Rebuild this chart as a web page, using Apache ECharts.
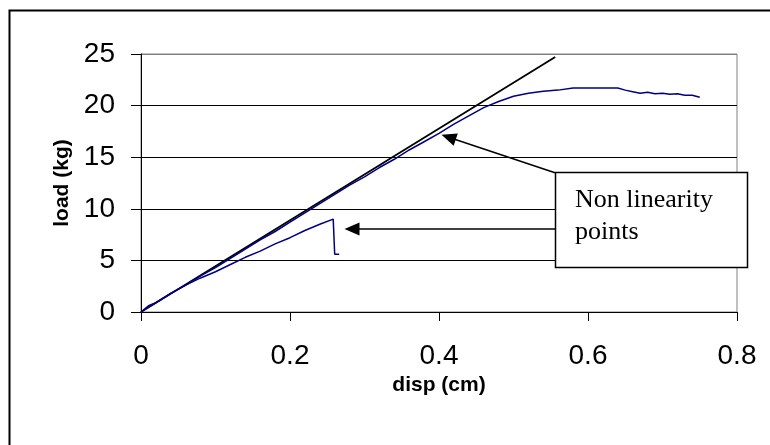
<!DOCTYPE html>
<html>
<head>
<meta charset="utf-8">
<script src="https://cdn.jsdelivr.net/npm/echarts@6/dist/echarts.min.js"></script>
<style>
  html, body { margin: 0; padding: 0; background: #fff; }
  #main { width: 770px; height: 445px; }
</style>
</head>
<body>
<div id="main"></div>
<script>
// load-displacement test
const dispLong = [0, 0.01, 0.02, 0.04, 0.06, 0.08, 0.10, 0.12, 0.14, 0.16, 0.18, 0.20, 0.22, 0.24, 0.26, 0.28, 0.30, 0.32, 0.34, 0.36, 0.38, 0.40, 0.42, 0.44, 0.46, 0.48, 0.50, 0.52, 0.54, 0.56, 0.58, 0.60, 0.62, 0.64, 0.65, 0.66, 0.67, 0.68, 0.69, 0.70, 0.71, 0.72, 0.73, 0.74, 0.75]
const loadLong = [0, 0.5, 0.9, 1.8, 2.6, 3.5, 4.3, 5.2, 6.1, 7.0, 7.8, 8.7, 9.6, 10.5, 11.4, 12.3, 13.1, 14.0, 14.8, 15.7, 16.5, 17.3, 18.2, 19.0, 19.8, 20.4, 20.9, 21.2, 21.4, 21.5, 21.7, 21.7, 21.7, 21.7, 21.5, 21.35, 21.2, 21.3, 21.15, 21.2, 21.1, 21.15, 21.0, 21.0, 20.8]

const dispShort = [0, 0.01, 0.02, 0.04, 0.06, 0.08, 0.10, 0.12, 0.14, 0.16, 0.18, 0.20, 0.22, 0.24, 0.258, 0.260, 0.266]
const loadShort = [0, 0.6, 0.9, 1.8, 2.6, 3.3, 3.9, 4.6, 5.3, 5.9, 6.6, 7.2, 7.9, 8.5, 9.0, 5.6, 5.6]

// straight reference line
const dispRef = [0, 0.556]
const loadRef = [0, 24.7]

const xTicks = [0, 0.2, 0.4, 0.6, 0.8]
const yTicks = [0, 5, 10, 15, 20, 25]

// arrows of the callout: [tail, tip]
const arrowUpper = [[0.5557, 13.5], [0.4129, 16.94]]
const arrowLower = [[0.5557, 8.04], [0.2832, 8.04]]

const pairs = (xs, ys) => xs.map((x, i) => [x, ys[i]])

const chart = echarts.init(document.getElementById('main'), null, { renderer: 'canvas' })

const option = {
  animation: false,
  backgroundColor: '#fff',
  grid: {
    left: 141,
    right: 33,
    top: 54,
    bottom: 133,
    show: true,
    borderColor: '#808080',
    borderWidth: 1
  },
  xAxis: {
    type: 'value',
    min: xTicks[0],
    max: xTicks[xTicks.length - 1],
    interval: 0.2,
    name: 'disp (cm)',
    nameLocation: 'middle',
    nameGap: 60,
    nameTextStyle: {
      fontFamily: 'Liberation Sans',
      fontWeight: 'bold',
      fontSize: 21,
      color: '#000'
    },
    axisLine: { show: true, lineStyle: { color: '#000', width: 1 } },
    axisTick: { show: true, length: 9, lineStyle: { color: '#000' } },
    axisLabel: {
      margin: 30,
      fontFamily: 'Liberation Sans',
      fontSize: 28,
      color: '#000',
      formatter: v => String(+v.toFixed(1))
    },
    splitLine: { show: false }
  },
  yAxis: {
    type: 'value',
    min: yTicks[0],
    max: yTicks[yTicks.length - 1],
    interval: 5,
    name: 'load (kg)',
    nameLocation: 'middle',
    nameGap: 50,
    nameRotate: 90,
    nameTextStyle: {
      fontFamily: 'Liberation Sans',
      fontWeight: 'bold',
      fontSize: 21,
      color: '#000'
    },
    axisLine: { show: true, lineStyle: { color: '#000', width: 1 } },
    axisTick: { show: true, length: 10, lineStyle: { color: '#000' } },
    axisLabel: {
      margin: 26,
      fontFamily: 'Liberation Sans',
      fontSize: 28,
      color: '#000'
    },
    splitLine: {
      show: true,
      lineStyle: { color: ['#000', '#000', '#000', '#000', '#000', '#808080'], width: 1 }
    }
  },
  series: [
    {
      type: 'line',
      data: pairs(dispRef, loadRef),
      showSymbol: false,
      lineStyle: { color: '#000', width: 1.8 },
      z: 2
    },
    {
      type: 'line',
      data: pairs(dispLong, loadLong),
      showSymbol: false,
      step: false,
      lineStyle: { color: '#000080', width: 1.5 },
      z: 3
    },
    {
      type: 'line',
      data: pairs(dispShort, loadShort),
      showSymbol: false,
      lineStyle: { color: '#000080', width: 1.5 },
      z: 3,
      markLine: {
        silent: true,
        symbol: ['none', 'triangle'],
        symbolSize: [13, 15],
        label: { show: false },
        lineStyle: { color: '#000', width: 1.5, type: 'solid' },
        itemStyle: { color: '#000' },
        data: [
          [{ coord: arrowUpper[0] }, { coord: arrowUpper[1] }],
          [{ coord: arrowLower[0] }, { coord: arrowLower[1] }]
        ]
      }
    }
  ],
  graphic: [
    {
      type: 'rect',
      z: 100,
      shape: { x: 9.5, y: 10.5, width: 900, height: 600 },
      style: { fill: 'none', stroke: '#000', lineWidth: 2 }
    },
    {
      type: 'rect',
      z: 100,
      shape: { x: 555.5, y: 172.5, width: 192, height: 95 },
      style: { fill: '#fff', stroke: '#000', lineWidth: 1.5 }
    },
    {
      type: 'text',
      z: 101,
      x: 575,
      y: 184,
      style: {
        text: 'Non linearity\npoints',
        font: '26px "Liberation Serif"',
        lineHeight: 32,
        fill: '#000',
        verticalAlign: 'top'
      }
    }
  ]
}

chart.setOption(option)
</script>
</body>
</html>
